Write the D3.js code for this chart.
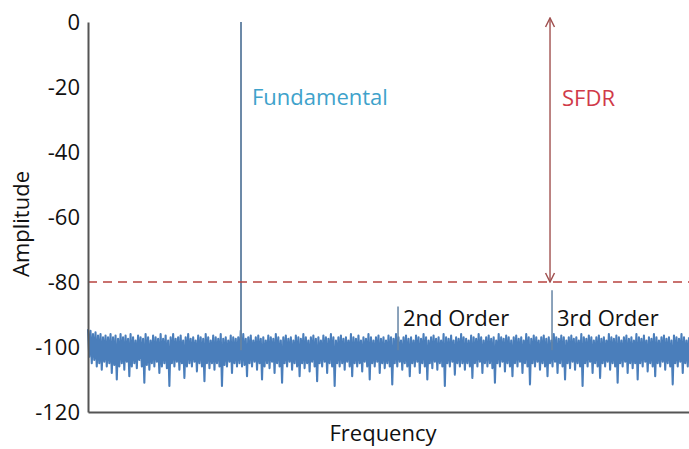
<!DOCTYPE html>
<html>
<head>
<meta charset="utf-8">
<script src="https://cdn.jsdelivr.net/npm/d3@7"></script>
<style>
  html, body { margin: 0; padding: 0; background: #fff; }
  svg text { font-family: "Open Sans", Lato, sans-serif; }
</style>
</head>
<body>
<div id="chart"></div>
<script>
// y ticks of the amplitude axis
const yTicks = [0, -20, -40, -60, -80, -100, -120]

// noise floor, one value per frequency bin (bins 0..480)
const noise = [
  -94.5, -103, -95, -105, -96, -104, -95.5, -106, -96.5, -105, -96, -107, -97, -104.5, -96.5, -106, -97, -105, -96, -108,
  -97, -105.5, -96.5, -110, -97.5, -106, -96, -105, -97, -107, -96.5, -104.5, -97.5, -109, -96, -106, -97, -105, -98, -106.5,
  -96.5, -104, -97, -106, -97.5, -111, -96, -105.5, -97, -107, -98, -105, -96.5, -106, -97, -104.5, -97.5, -108, -96, -106,
  -97.5, -105, -96.5, -106.5, -98, -112, -97, -105, -96, -106, -97.5, -104.5, -97, -107, -96.5, -105, -98, -109.5, -97, -106,
  -96, -105, -97.5, -106, -97, -104.5, -98, -107.5, -96.5, -105, -97, -106, -97.5, -110.5, -96, -105, -97, -106.5, -98, -105,
  -96.5, -107, -97, -105, -97.5, -106, -96, -112, -97.5, -105.5, -97, -106, -98, -104.5, -96.5, -108, -97, -105, -97.5, -106,
  -97, -105, -95, -106, -96, -105.5, -97.5, -109, -97, -105, -96.5, -106, -98, -104.5, -97, -107, -96.5, -105, -97.5, -110,
  -97, -106, -98, -105, -96.5, -106.5, -97, -104.5, -97.5, -108, -96, -105, -97, -106, -98, -111, -97, -105, -96.5, -106,
  -97.5, -104.5, -97, -107, -98, -105, -96.5, -106, -97, -109, -97.5, -105, -96, -106.5, -97, -105, -98, -107.5, -97, -104.5,
  -96.5, -106, -97.5, -110.5, -97, -105, -98, -106, -96.5, -104.5, -97, -108, -97.5, -105, -96, -106, -97, -112, -98, -105,
  -97, -106, -96.5, -105, -97.5, -107, -97, -104.5, -98, -106, -96, -109, -97, -105, -97.5, -106, -96.5, -105, -98, -107.5,
  -97, -104.5, -97.5, -106, -96, -110, -97, -105, -98, -106, -97, -104.5, -96.5, -108, -97.5, -105, -97, -106.5, -98, -105,
  -96.5, -106, -97, -111.5, -97.5, -105, -96, -106, -97, -104.5, -98, -107, -97, -105, -96.5, -106, -97.5, -109, -97, -105,
  -98, -106, -96.5, -104.5, -97, -108, -97.5, -105, -96, -106, -97, -110, -98, -105, -97, -106.5, -96.5, -104.5, -97.5, -107,
  -97, -105, -98, -106, -96, -112, -97, -105, -97.5, -106, -96.5, -104.5, -98, -108.5, -97, -105, -97.5, -106, -96, -105,
  -97, -107, -97.5, -105, -98, -106, -96.5, -109.5, -97, -105, -97.5, -106, -96, -104.5, -97, -108, -98, -105, -97, -106,
  -96.5, -105, -97.5, -106.5, -97, -111, -98, -105, -96, -106, -97, -104.5, -97.5, -107.5, -96.5, -105, -97, -106, -98, -109,
  -97, -105, -96.5, -106, -97.5, -104.5, -97, -108, -98, -105, -96, -106, -97, -111.5, -97.5, -105, -96.5, -106, -97, -104.5,
  -98, -107, -97, -105, -96.5, -106, -97.5, -109, -97, -105, -98, -106, -96, -104.5, -97, -108, -97.5, -105, -96.5, -106,
  -97, -110, -98, -105, -97, -106.5, -96.5, -104.5, -97.5, -107, -97, -105, -98, -106, -96, -112, -97, -105, -97.5, -106,
  -96.5, -104.5, -97, -108, -98, -105, -97, -106, -96.5, -109.5, -97.5, -105, -97, -106, -98, -104.5, -96, -107, -97, -105,
  -97.5, -106, -96.5, -111, -97, -105, -98, -106, -97, -104.5, -96.5, -108, -97.5, -105, -97, -106.5, -98, -105, -96, -110,
  -97, -105, -97.5, -106, -96.5, -104.5, -98, -107.5, -97, -105, -97.5, -106, -96, -109, -97, -105, -98, -106, -97, -104.5,
  -96.5, -107, -97.5, -105, -97, -106, -98, -111.5, -96.5, -105, -97, -106, -97.5, -104.5, -96, -108, -97, -105, -98, -106,
  -97
]

// spurs: bin, peak amplitude, label
const spurBins = [122.2, 247.6, 370.6]
const spurAmps = [0, -87.5, -82.5]
const spurLabels = ['Fundamental', '2nd Order', '3rd Order']
const spurFloor = -101

const sfdrLevel = -80

const width = 689, height = 449
const margin = { top: 22, right: 0, bottom: 37, left: 88 }
const fontSize = 22

const svg = d3.select('#chart').append('svg').attr('width', width).attr('height', height)

const x = d3.scaleLinear().domain([0, noise.length - 1]).range([margin.left, width - margin.right])
const y = d3.scaleLinear().domain([-120, 0]).range([height - margin.bottom, margin.top])

// noise floor
const line = d3.line().x((d, i) => x(i)).y(d => y(d))
svg.append('path')
  .datum(noise)
  .attr('d', line)
  .attr('fill', 'none')
  .attr('stroke', '#4a7ebb')
  .attr('stroke-width', 2.1)
  .attr('stroke-linejoin', 'round')

// spur lines
svg.append('g')
  .selectAll('line')
  .data(spurBins)
  .enter()
  .append('line')
  .attr('x1', d => x(d))
  .attr('x2', d => x(d))
  .attr('y1', y(spurFloor))
  .attr('y2', (d, i) => y(spurAmps[i]))
  .attr('stroke', '#6584a4')
  .attr('stroke-width', (d, i) => (i === 0 ? 1.9 : 1.5))

// SFDR dashed line
svg.append('line')
  .attr('x1', margin.left)
  .attr('x2', width - margin.right)
  .attr('y1', y(sfdrLevel))
  .attr('y2', y(sfdrLevel))
  .attr('stroke', '#b8433f')
  .attr('stroke-width', 1.6)
  .attr('stroke-dasharray', '9,6')

// axes
const yAxis = svg.append('g')
  .attr('transform', `translate(${margin.left},0)`)
  .call(d3.axisLeft(y).tickValues(yTicks).tickFormat(d => String(d)).tickSize(0).tickPadding(8))
yAxis.select('.domain').attr('stroke', '#555').attr('stroke-width', 2)
yAxis.selectAll('text').attr('font-size', fontSize).attr('fill', '#111').attr('font-family', '"Open Sans", sans-serif')

const xAxis = svg.append('g')
  .attr('transform', `translate(0,${y(-120)})`)
  .call(d3.axisBottom(x).ticks(0).tickSize(0).tickSizeOuter(0))
xAxis.select('.domain').attr('stroke', '#555').attr('stroke-width', 2)
xAxis.selectAll('.tick').remove()

// SFDR arrow
const defs = svg.append('defs')
defs.append('marker')
  .attr('id', 'arrow')
  .attr('viewBox', '0 0 10 10')
  .attr('refX', 9)
  .attr('refY', 5)
  .attr('markerWidth', 8)
  .attr('markerHeight', 8)
  .attr('orient', 'auto-start-reverse')
  .append('path')
  .attr('d', 'M1,1 L9,5 L1,9')
  .attr('fill', 'none')
  .attr('stroke', '#a0504f')
  .attr('stroke-width', 1.3)

const arrowX = x(spurBins[2]) - 2
svg.append('line')
  .attr('x1', arrowX)
  .attr('x2', arrowX)
  .attr('y1', y(sfdrLevel))
  .attr('y2', y(0) - 4)
  .attr('stroke', '#a0504f')
  .attr('stroke-width', 1.4)
  .attr('marker-start', 'url(#arrow)')
  .attr('marker-end', 'url(#arrow)')

// labels
svg.append('text')
  .attr('x', x(spurBins[0]) + 11)
  .attr('y', 105)
  .attr('font-size', fontSize)
  .attr('fill', '#3ea2cb')
  .text(spurLabels[0])

svg.append('text')
  .attr('x', arrowX + 12)
  .attr('y', 106)
  .attr('font-size', fontSize)
  .attr('fill', '#d03a48')
  .text('SFDR')

svg.append('text')
  .attr('x', x(spurBins[1]) + 5)
  .attr('y', 326)
  .attr('font-size', fontSize)
  .attr('fill', '#111')
  .text(spurLabels[1])

svg.append('text')
  .attr('x', x(spurBins[2]) + 5)
  .attr('y', 326)
  .attr('font-size', fontSize)
  .attr('fill', '#111')
  .text(spurLabels[2])

// axis titles
svg.append('text')
  .attr('transform', `translate(29,224) rotate(-90)`)
  .attr('text-anchor', 'middle')
  .attr('font-size', fontSize)
  .attr('fill', '#111')
  .text('Amplitude')

svg.append('text')
  .attr('x', 383)
  .attr('y', 441)
  .attr('text-anchor', 'middle')
  .attr('font-size', fontSize)
  .attr('fill', '#111')
  .text('Frequency')
</script>
</body>
</html>
